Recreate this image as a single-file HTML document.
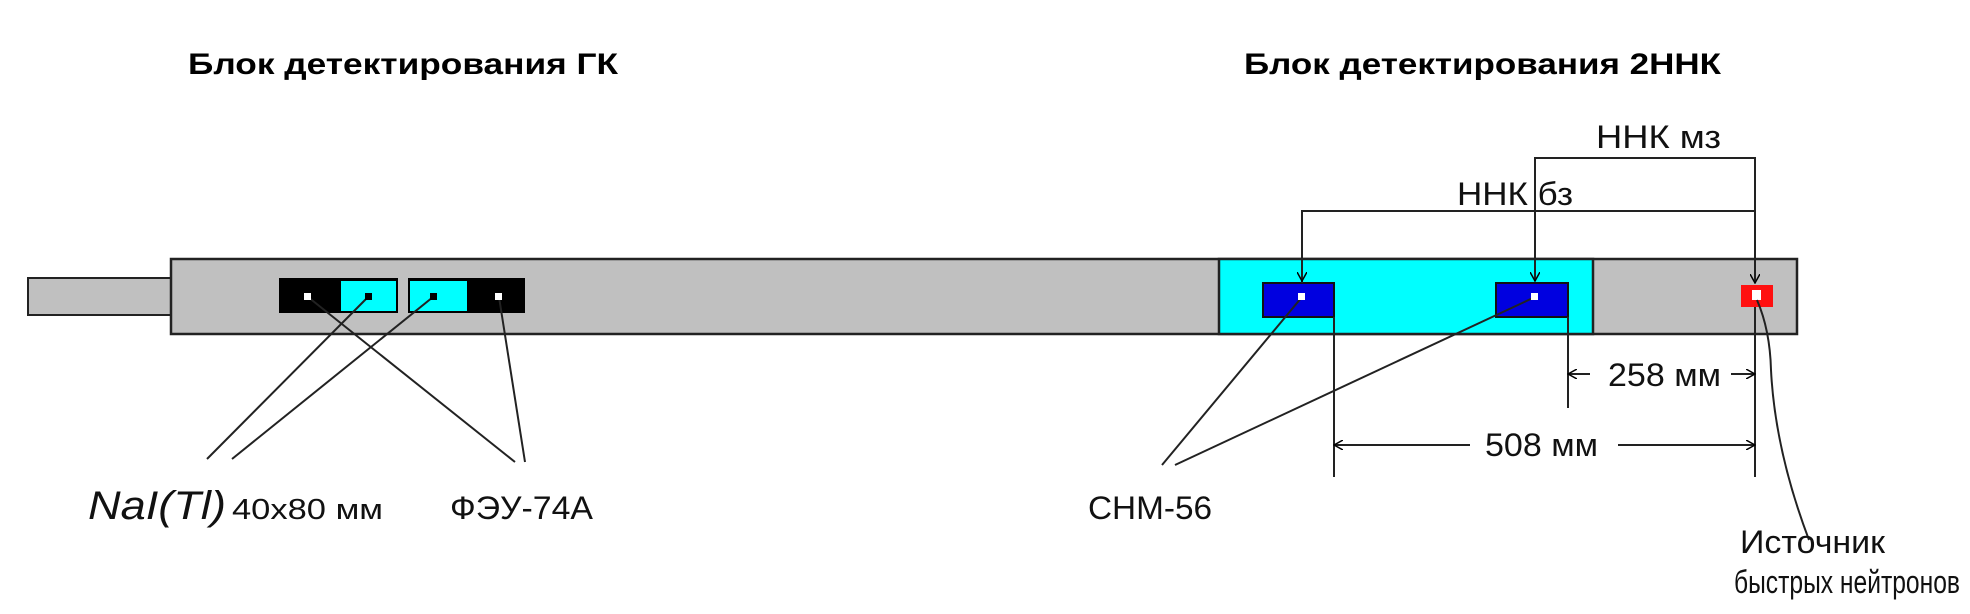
<!DOCTYPE html>
<html><head><meta charset="utf-8"><style>html,body{margin:0;padding:0;background:#fff}svg{display:block}</style></head><body>
<svg width="1970" height="614" xmlns="http://www.w3.org/2000/svg" font-family="Liberation Sans, sans-serif">
<defs><marker id="a" markerWidth="10" markerHeight="10" refX="9" refY="5" orient="auto" markerUnits="userSpaceOnUse"><path d="M0,0 L9,5 L0,10" fill="none" stroke="#000" stroke-width="1.5"/></marker></defs>
<text x="188" y="74" font-size="30" font-weight="bold" textLength="430" lengthAdjust="spacingAndGlyphs">Блок детектирования ГК</text>
<text x="1244" y="74" font-size="30" font-weight="bold" textLength="477" lengthAdjust="spacingAndGlyphs">Блок детектирования 2ННК</text>
<rect x="28" y="278" width="143" height="37" fill="#c0c0c0" stroke="#222" stroke-width="2"/>
<rect x="171" y="259" width="1626" height="75" fill="#c0c0c0" stroke="#222" stroke-width="2.5"/>
<rect x="1219" y="259" width="374" height="75" fill="#00ffff" stroke="#222" stroke-width="2.5"/>
<rect x="279" y="278" width="119" height="35" fill="#000"/>
<rect x="341" y="281" width="55" height="30" fill="#00ffff"/>
<rect x="408" y="278" width="117" height="35" fill="#000"/>
<rect x="410" y="281" width="57" height="30" fill="#00ffff"/>
<rect x="1263" y="283" width="71" height="34" fill="#0000e0" stroke="#111" stroke-width="2"/>
<rect x="1496" y="283" width="72" height="34" fill="#0000e0" stroke="#111" stroke-width="2"/>
<rect x="1741" y="285" width="32" height="22" fill="#ff1010"/>
<rect x="1752" y="290" width="9" height="10" fill="#fff"/>
<g stroke="#222" stroke-width="2" fill="none">
<line x1="207" y1="459" x2="368" y2="297"/>
<line x1="232" y1="459" x2="433" y2="297"/>
<line x1="308" y1="297" x2="515" y2="462"/>
<line x1="499" y1="297" x2="525" y2="462"/>
<line x1="1162" y1="465" x2="1302" y2="297"/>
<line x1="1175" y1="465" x2="1535" y2="297"/>
<path d="M1757,300 Q1770,330 1771,370 Q1775,450 1809,540"/>
<path d="M1535,191 V158 H1755 V283" marker-end="url(#a)"/>
<line x1="1535" y1="158" x2="1535" y2="281" marker-end="url(#a)"/>
<path d="M1302,283 V211 H1755"/>
<line x1="1302" y1="211" x2="1302" y2="281" marker-end="url(#a)"/>
<line x1="1334" y1="317" x2="1334" y2="477"/>
<line x1="1568" y1="317" x2="1568" y2="408"/>
<line x1="1755" y1="307" x2="1755" y2="477"/>
<line x1="1590" y1="374" x2="1568" y2="374" marker-end="url(#a)"/>
<line x1="1731" y1="374" x2="1755" y2="374" marker-end="url(#a)"/>
<line x1="1470" y1="445" x2="1334" y2="445" marker-end="url(#a)"/>
<line x1="1618" y1="445" x2="1755" y2="445" marker-end="url(#a)"/>
</g>
<g fill="#fff"><rect x="304" y="293" width="7" height="7"/><rect x="495" y="293" width="7" height="7"/><rect x="1298" y="293" width="7" height="7"/><rect x="1531" y="293" width="7" height="7"/></g>
<g fill="#000"><rect x="365" y="293" width="7" height="7"/><rect x="430" y="293" width="7" height="7"/></g>
<g font-size="32" fill="#111">
<text x="1596" y="148" textLength="125" lengthAdjust="spacingAndGlyphs">ННК мз</text>
<text x="1457" y="205" textLength="116" lengthAdjust="spacingAndGlyphs">ННК бз</text>
<text x="1608" y="386" textLength="113" lengthAdjust="spacingAndGlyphs">258 мм</text>
<text x="1485" y="456" textLength="113" lengthAdjust="spacingAndGlyphs">508 мм</text>
<text x="88" y="519" font-size="40" font-style="italic" textLength="138" lengthAdjust="spacingAndGlyphs">NaI(Tl)</text>
<text x="232" y="519" font-size="29" textLength="151" lengthAdjust="spacingAndGlyphs">40x80 мм</text>
<text x="450" y="519" textLength="143" lengthAdjust="spacingAndGlyphs">ФЭУ-74А</text>
<text x="1088" y="519" textLength="124" lengthAdjust="spacingAndGlyphs">СНМ-56</text>
<text x="1740" y="553" textLength="145" lengthAdjust="spacingAndGlyphs">Источник</text>
<text x="1734" y="593" textLength="226" lengthAdjust="spacingAndGlyphs">быстрых нейтронов</text>
</g>
</svg>
</body></html>
